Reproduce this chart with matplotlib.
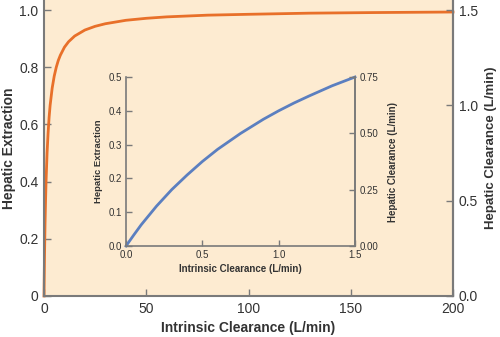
import matplotlib
matplotlib.use("Agg")
import matplotlib.pyplot as plt

plt.rcParams['font.family'] = ['Liberation Sans', 'DejaVu Sans']

cl_main = [0, 0.25, 0.5, 0.75, 1, 1.5, 2, 2.5, 3, 4, 5, 6, 7, 8, 10, 12, 15, 20, 25, 30,
           40, 50, 60, 80, 100, 130, 160, 200]
e_main = [0, 0.14, 0.25, 0.33, 0.40, 0.50, 0.57, 0.625, 0.667, 0.727, 0.769, 0.80, 0.824,
          0.842, 0.870, 0.889, 0.909, 0.930, 0.943, 0.952, 0.964, 0.971, 0.976, 0.982,
          0.985, 0.989, 0.991, 0.993]

# valores del recuadro pequeño
cl_inset = [0, 0.05, 0.1, 0.2, 0.3, 0.4, 0.5, 0.6, 0.75, 0.9, 1.0, 1.1, 1.2, 1.35, 1.5]
e_inset = [0, 0.032, 0.063, 0.118, 0.167, 0.21, 0.25, 0.286, 0.333, 0.375, 0.40, 0.423,
           0.444, 0.474, 0.50]

fondo = '#fdebd1'
gris = '#7a7a7a'
texto = '#333333'

fig = plt.figure(figsize=(5, 3.37), dpi=100)
ax = fig.add_axes([0.088, 0.1217, 0.818, 0.8783])
ax.set_facecolor(fondo)
ax.plot(cl_main, e_main, color='#e8702a', lw=2.0, clip_on=False)
ax.set_xlim(0, 200)
ax.set_ylim(0, 1.035)
ax.set_xticks([0, 50, 100, 150, 200])
ax.set_yticks([0, 0.2, 0.4, 0.6, 0.8, 1.0])
ax.set_yticklabels(['0', '0.2', '0.4', '0.6', '0.8', '1.0'])
ax.tick_params(direction='in', length=5, width=1, color=gris, labelsize=10,
               labelcolor=texto, pad=4)
ax.spines['top'].set_visible(False)
for s in ['left', 'bottom', 'right']:
    ax.spines[s].set_color(gris)
    ax.spines[s].set_linewidth(1.5)
ax.set_xlabel('Intrinsic Clearance (L/min)', fontsize=10, fontweight='bold',
              color=texto, labelpad=4)
ax.set_ylabel('Hepatic Extraction', fontsize=10, fontweight='bold', color=texto)
ax.yaxis.set_label_coords(-0.068, 0.5)

ax2 = ax.twinx()
ax2.set_ylim(0, 1.5 * 1.035)
ax2.set_yticks([0, 0.5, 1.0, 1.5])
ax2.set_yticklabels(['0.0', '0.5', '1.0', '1.5'])
ax2.tick_params(direction='in', length=5, width=1, color=gris, labelsize=10,
                labelcolor=texto, pad=4)
for s in ['top', 'left', 'bottom']:
    ax2.spines[s].set_visible(False)
ax2.spines['right'].set_color(gris)
ax2.spines['right'].set_linewidth(1.5)
ax2.set_ylabel('Hepatic Clearance (L/min)', fontsize=9.5, fontweight='bold',
               color=texto)
ax2.yaxis.set_label_coords(1.078, 0.5)

# recuadro
ins = fig.add_axes([0.252, 0.270, 0.458, 0.5015])
ins.patch.set_alpha(0)
ins.plot(cl_inset, e_inset, color='#5b7fc0', lw=2.0, clip_on=False)
ins.set_xlim(0, 1.5)
ins.set_ylim(0, 0.5)
ins.set_xticks([0, 0.5, 1.0, 1.5])
ins.set_yticks([0, 0.1, 0.2, 0.3, 0.4, 0.5])
ins.tick_params(direction='in', length=4, width=1, color=gris, labelsize=7,
                labelcolor=texto, pad=3)
ins.spines['top'].set_visible(False)
for s in ['left', 'bottom', 'right']:
    ins.spines[s].set_color(gris)
    ins.spines[s].set_linewidth(1.2)
ins.set_xlabel('Intrinsic Clearance (L/min)', fontsize=7, fontweight='bold',
               color=texto, labelpad=3)
ins.set_ylabel('Hepatic Extraction', fontsize=6.8, fontweight='bold', color=texto,
               labelpad=4)

ins2 = ins.twinx()
ins2.set_ylim(0, 0.75)
ins2.set_yticks([0, 0.25, 0.5, 0.75])
ins2.set_yticklabels(['0.00', '0.25', '0.50', '0.75'])
ins2.tick_params(direction='in', length=4, width=1, color=gris, labelsize=7,
                 labelcolor=texto, pad=3)
for s in ['top', 'left', 'bottom']:
    ins2.spines[s].set_visible(False)
ins2.spines['right'].set_color(gris)
ins2.spines['right'].set_linewidth(1.2)
ins2.set_ylabel('Hepatic Clearance (L/min)', fontsize=7, fontweight='bold',
                color=texto, labelpad=7)

fig.savefig('out.png', dpi=100)
